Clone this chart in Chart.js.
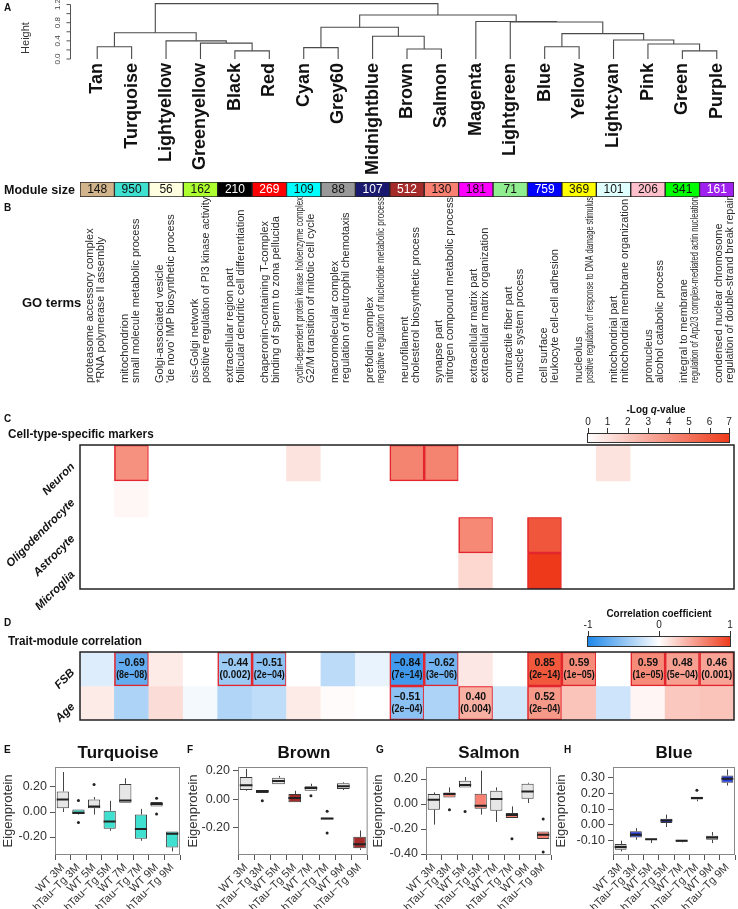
<!DOCTYPE html>
<html>
<head>
<meta charset="utf-8">
<title>Module overview</title>
<script src="https://cdn.jsdelivr.net/npm/chart.js@4.4.1/dist/chart.umd.min.js"></script>
<style>
  body { margin: 0; background: #fff; }
  #fig { position: relative; width: 738px; height: 909px; overflow: hidden; font-family: "Liberation Sans", Arial, sans-serif; color: #111; }
  #fig canvas { position: absolute; }
  .lbl { position: absolute; white-space: nowrap; line-height: 1; }
  .panel { font-weight: bold; font-size: 10px; }
  .head { font-weight: bold; font-size: 13px; transform-origin: 0 50%; transform: scaleX(.9); }
  .ttl { font-weight: bold; font-size: 17px; transform: translateX(-50%); }
  .cbt { font-weight: bold; font-size: 11px; transform: translateX(-50%) scaleX(.9); }
</style>
</head>
<body>
<div id="fig">
  <canvas id="dendro" width="738" height="180" style="left:0;top:0"></canvas>
  <canvas id="sizes" width="738" height="210" style="left:0;top:180px"></canvas>
  <canvas id="cells" width="738" height="215" style="left:0;top:395px"></canvas>
  <canvas id="traits" width="738" height="128" style="left:0;top:600px"></canvas>
  <canvas id="boxE" width="185" height="169" style="left:0;top:740px"></canvas>
  <canvas id="boxF" width="185" height="169" style="left:185px;top:740px"></canvas>
  <canvas id="boxG" width="185" height="169" style="left:370px;top:740px"></canvas>
  <canvas id="boxH" width="185" height="169" style="left:553px;top:740px"></canvas>

  <div class="lbl panel" style="left:4px;top:3px">A</div>
  <div class="lbl" style="left:4px;top:184px;font-weight:bold;font-size:12.5px">Module size</div>
  <div class="lbl panel" style="left:4px;top:203px">B</div>
  <div class="lbl" style="left:22px;top:296px;font-weight:bold;font-size:13px">GO terms</div>
  <div class="lbl panel" style="left:4px;top:414px">C</div>
  <div class="lbl head" style="left:8px;top:427px">Cell-type-specific markers</div>
  <div class="lbl cbt" style="left:656px;top:404px">-Log <i>q</i>-value</div>
  <div class="lbl panel" style="left:4px;top:618px">D</div>
  <div class="lbl head" style="left:8px;top:634px">Trait-module correlation</div>
  <div class="lbl cbt" style="left:659px;top:608px">Correlation coefficient</div>
  <div class="lbl panel" style="left:4px;top:745px">E</div>
  <div class="lbl panel" style="left:187px;top:745px">F</div>
  <div class="lbl panel" style="left:376px;top:745px">G</div>
  <div class="lbl panel" style="left:564px;top:745px">H</div>
  <div class="lbl ttl" style="left:118px;top:744px">Turquoise</div>
  <div class="lbl ttl" style="left:304px;top:744px">Brown</div>
  <div class="lbl ttl" style="left:489px;top:744px">Salmon</div>
  <div class="lbl ttl" style="left:674px;top:744px">Blue</div>
</div>
<script>
const FONT = '"Liberation Sans", Arial, sans-serif';
Chart.defaults.font.family = FONT;

// ---- modules (dendrogram leaf order) ----
const modules = ['Tan', 'Turquoise', 'Lightyellow', 'Greenyellow', 'Black', 'Red', 'Cyan', 'Grey60', 'Midnightblue', 'Brown', 'Salmon', 'Magenta', 'Lightgreen', 'Blue', 'Yellow', 'Lightcyan', 'Pink', 'Green', 'Purple'];
const moduleColors = ['#d2b48c', '#40e0d0', '#ffffe0', '#adff2f', '#000000', '#ff0000', '#00ffff', '#999999', '#191970', '#a52a2a', '#fa8072', '#ff00ff', '#90ee90', '#0000ff', '#ffff00', '#e0ffff', '#ffc0cb', '#00ff00', '#a020f0'];
const moduleSizes = [148, 950, 56, 162, 210, 269, 109, 88, 107, 512, 130, 181, 71, 759, 369, 101, 206, 341, 161];
const whiteText = [4, 5, 8, 9, 13, 18];

// dendrogram merges, R style: negative = leaf, positive = earlier merge
const mergeA = [-5, -18, -10, -7, -1, -14, -17, -4, -3, -16, -9, 6, 5, 4, -13, -12, 14, 13];
const mergeB = [-6, -19, -11, -8, -2, -15, 2, 1, 8, 7, 3, 10, 9, 11, 12, 15, 16, 17];
const mergeHeight = [0.18, 0.18, 0.22, 0.25, 0.27, 0.27, 0.33, 0.35, 0.40, 0.42, 0.50, 0.56, 0.58, 0.70, 0.815, 0.825, 0.97, 1.22];
const heightTicks = [0, 0.2, 0.4, 0.6, 0.8, 1.0, 1.2];
const heightLabels = [0, 0.4, 0.8, 1.2];

// GO terms (cellular component / biological process)
const goCC = ['proteasome accessory complex', 'mitochondrion', 'Golgi-associated vesicle', 'cis-Golgi network', 'extracellular region part', 'chaperonin-containing T-complex', 'cyclin-dependent protein kinase holoenzyme complex', 'macromolecular complex', 'prefoldin complex', 'neurofilament', 'synapse part', 'extracellular matrix part', 'contractile fiber part', 'cell surface', 'nucleolus', 'mitochondrial part', 'pronucleus', 'integral to membrane', 'condensed nuclear chromosome'];
const goBP = ['*RNA polymerase II assembly', 'small molecule metabolic process', "'de novo' IMP biosynthetic process", 'positive regulation of PI3 kinase activity', 'follicular dendritic cell differentiation', 'binding of sperm to zona pellucida', 'G2/M transition of mitotic cell cycle', 'regulation of neutrophil chemotaxis', 'negative regulation of nucleotide metabolic process', 'cholesterol biosynthetic process', 'nitrogen compound metabolic process', 'extracellular matrix organization', 'muscle system process', 'leukocyte cell-cell adhesion', 'positive regulation of response to DNA damage stimulus', 'mitochondrial membrane organization', 'alcohol catabolic process', 'regulation of Arp2/3 complex-mediated actin nucleation', 'regulation of double-strand break repair'];

// ---- C: cell-type markers, -log q ----
const cellTypes = ['Neuron', 'Oligodendrocyte', 'Astrocyte', 'Microglia'];
const neuronLogQ    = [0, 3.9, 0, 0, 0, 0, 1.0, 0, 0, 4.4, 4.4, 0, 0, 0, 0, 1.0, 0, 0, 0];
const oligoLogQ     = [0, 0.3, 0, 0, 0, 0, 0, 0, 0, 0, 0, 0, 0, 0, 0, 0, 0, 0, 0];
const astrocyteLogQ = [0, 0, 0, 0, 0, 0, 0, 0, 0, 0, 0, 4.2, 0, 6.0, 0, 0, 0, 0, 0];
const microgliaLogQ = [0, 0, 0, 0, 0, 0, 0, 0, 0, 0, 0, 1.4, 0, 7.0, 0, 0, 0, 0, 0];
const neuronSig = [1, 9, 10], oligoSig = [], astrocyteSig = [11, 13], microgliaSig = [13];
const logQTicks = [0, 1, 2, 3, 4, 5, 6, 7];

// ---- D: trait-module correlation ----
const traits = ['FSB', 'Age'];
const fsbCor = [-0.15, -0.69, 0.1, 0, -0.44, -0.51, 0, -0.3, -0.1, -0.84, -0.62, 0.12, 0, 0.85, 0.59, 0, 0.59, 0.48, 0.46];
const ageCor = [0.1, -0.36, 0.18, -0.05, -0.35, -0.28, 0.1, 0.02, 0, -0.51, -0.36, 0.40, -0.2, 0.52, 0.3, -0.22, 0.05, 0.28, 0.3];
const fsbP = [null, '8e\u221208', null, null, '0.002', '2e\u221204', null, null, null, '7e\u221214', '3e\u221206', null, null, '2e\u221214', '1e\u221205', null, '1e\u221205', '5e\u221204', '0.001'];
const ageP = [null, null, null, null, null, null, null, null, null, '2e\u221204', null, '0.004', null, '2e\u221204', null, null, null, null, null];
const corTicks = [-1, 0, 1];

// ---- E-H: eigenprotein boxplots ----
const groups = ['WT 3M', 'hTau\u2212Tg 3M', 'WT 5M', 'hTau\u2212Tg 5M', 'WT 7M', 'hTau\u2212Tg 7M', 'WT 9M', 'hTau\u2212Tg 9M'];
const turqMin = [0.00, -0.02, -0.02, -0.15, 0.075, -0.23, 0.045, -0.315];
const turqQ1  = [0.03, -0.015, 0.03, -0.133, 0.075, -0.213, 0.045, -0.283];
const turqMed = [0.10, -0.005, 0.045, -0.075, 0.093, -0.136, 0.065, -0.173];
const turqQ3  = [0.165, 0.02, 0.10, 0.01, 0.225, -0.02, 0.08, -0.155];
const turqMax = [0.32, 0.02, 0.12, 0.09, 0.27, 0.025, 0.08, -0.155];
const turqOut = [[], [0.093, -0.083], [0.22], [], [], [], [0.11, -0.015], []];

const brownMin = [0.06, 0.044, 0.107, -0.02, 0.06, -0.142, 0.065, -0.358];
const brownQ1  = [0.065, 0.044, 0.107, -0.02, 0.06, -0.142, 0.072, -0.346];
const brownMed = [0.10, 0.056, 0.13, 0.01, 0.08, -0.135, 0.093, -0.318];
const brownQ3  = [0.158, 0.065, 0.153, 0.037, 0.093, -0.13, 0.114, -0.265];
const brownMax = [0.215, 0.065, 0.165, 0.06, 0.11, -0.13, 0.12, -0.22];
const brownOut = [[], [-0.01], [], [], [0.025], [-0.084, -0.237], [], []];

const salmonMin = [-0.165, 0.053, 0.133, -0.085, -0.144, -0.112, 0.008, -0.28];
const salmonQ1  = [-0.045, 0.053, 0.133, -0.037, -0.053, -0.112, 0.043, -0.28];
const salmonMed = [0.035, 0.08, 0.152, -0.013, 0.04, -0.088, 0.10, -0.245];
const salmonQ3  = [0.08, 0.093, 0.187, 0.083, 0.107, -0.072, 0.163, -0.219];
const salmonMax = [0.093, 0.133, 0.216, 0.267, 0.133, -0.019, 0.17, -0.219];
const salmonOut = [[], [-0.045], [-0.06], [], [], [-0.277], [], [-0.12, -0.384]];

const blueMin = [-0.168, -0.094, -0.115, -0.013, -0.11, 0.151, -0.115, 0.251];
const blueQ1  = [-0.157, -0.079, -0.094, 0.013, -0.106, 0.162, -0.094, 0.268];
const blueMed = [-0.14, -0.062, -0.09, 0.028, -0.10, 0.172, -0.079, 0.294];
const blueQ3  = [-0.121, -0.04, -0.087, 0.04, -0.094, 0.179, -0.068, 0.315];
const blueMax = [-0.10, -0.02, -0.087, 0.066, -0.094, 0.179, -0.045, 0.353];
const blueOut = [[], [], [], [], [], [0.221], [], []];

// ---------------------------------------------------------------
function mix(c1, c2, t) {
  t = Math.max(0, Math.min(1, t));
  return 'rgb(' + c1.map((v, k) => Math.round(v + (c2[k] - v) * t)).join(',') + ')';
}
const WHITE = [255, 255, 255], RED = [238, 58, 26], BLUE = [28, 134, 232];
const qColor = v => mix(WHITE, RED, v / 7);
const corColor = v => v < 0 ? mix(WHITE, BLUE, -v) : mix(WHITE, RED, v);

// ---- A: dendrogram ----
const nodeX = [], nodeH = [];
const childOf = c => c < 0 ? { x: -c - 1, h: 0 } : { x: nodeX[c - 1], h: nodeH[c - 1] };
const dendroSets = mergeHeight.map((h, k) => {
  const a = childOf(mergeA[k]), b = childOf(mergeB[k]);
  nodeX.push((a.x + b.x) / 2); nodeH.push(h);
  return {
    data: [{ x: a.x, y: a.h }, { x: a.x, y: h }, { x: b.x, y: h }, { x: b.x, y: b.h }],
    showLine: true, borderColor: '#4a4a4a', borderWidth: 1.1, pointRadius: 0, fill: false
  };
});

const dendroDeco = {
  id: 'dendroDeco',
  afterDraw(chart) {
    const { ctx, scales: { x, y } } = chart;
    ctx.save();
    const ax = 70.5;
    ctx.strokeStyle = '#555'; ctx.lineWidth = 1;
    ctx.beginPath();
    ctx.moveTo(ax, y.getPixelForValue(0)); ctx.lineTo(ax, y.getPixelForValue(1.2));
    heightTicks.forEach(v => { const p = y.getPixelForValue(v); ctx.moveTo(ax, p); ctx.lineTo(ax - 4, p); });
    ctx.stroke();
    ctx.fillStyle = '#444'; ctx.font = '8px ' + FONT;
    ctx.textAlign = 'center'; ctx.textBaseline = 'middle';
    heightLabels.forEach(v => {
      ctx.save(); ctx.translate(ax - 13, y.getPixelForValue(v)); ctx.rotate(-Math.PI / 2);
      ctx.fillText(v.toFixed(1), 0, 0); ctx.restore();
    });
    ctx.font = '11px ' + FONT; ctx.fillStyle = '#333';
    ctx.save(); ctx.translate(26, 38); ctx.rotate(-Math.PI / 2); ctx.fillText('Height', 0, 0); ctx.restore();
    ctx.font = 'bold 18px ' + FONT; ctx.fillStyle = '#111'; ctx.textAlign = 'right';
    modules.forEach((m, i) => {
      ctx.save(); ctx.translate(x.getPixelForValue(i), 63); ctx.rotate(-Math.PI / 2);
      ctx.fillText(m, 0, 0); ctx.restore();
    });
    ctx.restore();
  }
};

new Chart(document.getElementById('dendro'), {
  type: 'scatter',
  data: { datasets: dendroSets },
  options: {
    responsive: false, animation: false,
    layout: { padding: { left: 80, right: 4, top: 0, bottom: 121 } },
    plugins: { legend: { display: false }, tooltip: { enabled: false } },
    scales: {
      x: { type: 'linear', min: -0.5, max: 18.5, display: false },
      y: { min: 0, max: 1.3, display: false }
    }
  },
  plugins: [dendroDeco]
});

// ---- module size strip + GO terms ----
const sizeDeco = {
  id: 'sizeDeco',
  afterDatasetsDraw(chart) {
    const { ctx, scales: { x, y } } = chart;
    ctx.save();
    ctx.textAlign = 'center'; ctx.textBaseline = 'middle';
    ctx.font = '12px ' + FONT;
    moduleSizes.forEach((n, i) => {
      ctx.fillStyle = whiteText.includes(i) ? '#fff' : '#111';
      ctx.fillText(String(n), x.getPixelForValue(i), y.getPixelForValue(0.5) + 0.5, 24);
    });
    ctx.fillStyle = '#2b2b2b'; ctx.textAlign = 'left';
    ctx.font = '11px ' + FONT;
    const base = 203;
    modules.forEach((m, i) => {
      const x1 = x.getPixelForValue(i) - 7 + 0.5 * i;
      [[goCC[i], x1], [goBP[i], x1 + 11]].forEach(([s, px]) => {
        ctx.save(); ctx.translate(px, base); ctx.rotate(-Math.PI / 2);
        ctx.fillText(s, 0, 0, 186); ctx.restore();
      });
    });
    ctx.restore();
  }
};

new Chart(document.getElementById('sizes'), {
  type: 'bar',
  data: {
    labels: modules,
    datasets: [{
      data: moduleSizes.map(() => [0, 1]),
      backgroundColor: moduleColors, borderColor: '#222', borderWidth: 1, borderSkipped: false,
      barPercentage: 1, categoryPercentage: 1
    }]
  },
  options: {
    responsive: false, animation: false,
    layout: { padding: { left: 80, right: 4, top: 2, bottom: 193 } },
    plugins: { legend: { display: false }, tooltip: { enabled: false } },
    scales: { x: { display: false }, y: { min: 0, max: 1, display: false } }
  },
  plugins: [sizeDeco]
});

// ---- heatmap helpers ----
function heatDeco(cfg) {
  return {
    id: 'heatDeco',
    afterDatasetsDraw(chart) {
      const { ctx, chartArea: a, scales: { x, y } } = chart;
      ctx.save();
      ctx.strokeStyle = '#222'; ctx.lineWidth = 1.5;
      ctx.strokeRect(a.left, a.top, a.right - a.left, a.bottom - a.top);
      if (cfg.cellText) {
        ctx.fillStyle = '#111'; ctx.textAlign = 'center'; ctx.textBaseline = 'middle';
        ctx.font = 'bold 10.5px ' + FONT;
        cfg.cellText.forEach((row, r) => row.forEach((t, i) => {
          if (!t) return;
          const cx = x.getPixelForValue(i), cy = y.getPixelForValue(r + 0.5);
          ctx.fillText(t[0], cx, cy - 6, 30);
          ctx.fillText('(' + t[1] + ')', cx, cy + 6, 31);
        }));
      }
      ctx.fillStyle = '#111'; ctx.font = 'italic bold 11.5px ' + FONT;
      ctx.textAlign = 'right'; ctx.textBaseline = 'bottom';
      cfg.rows.forEach((name, r) => {
        ctx.save(); ctx.translate(a.left - 3, y.getPixelForValue(r + 0.5) + 6); ctx.rotate(-Math.PI / 4);
        ctx.fillText(name, 0, 0); ctx.restore();
      });
      const b = cfg.bar;
      const g = ctx.createLinearGradient(b.x0, 0, b.x1, 0);
      b.stops.forEach(([p, c]) => g.addColorStop(p, c));
      ctx.fillStyle = g; ctx.fillRect(b.x0, b.y0, b.x1 - b.x0, b.y1 - b.y0);
      ctx.strokeStyle = '#333'; ctx.lineWidth = 1;
      ctx.strokeRect(b.x0 + 0.5, b.y0 + 0.5, b.x1 - b.x0 - 1, b.y1 - b.y0 - 1);
      ctx.fillStyle = '#222'; ctx.font = '10px ' + FONT; ctx.textAlign = 'center'; ctx.textBaseline = 'middle';
      ctx.beginPath();
      b.ticks.forEach(v => {
        const px = b.x0 + (v - b.min) / (b.max - b.min) * (b.x1 - b.x0);
        const tx = Math.min(Math.max(px, b.x0 + 1), b.x1 - 1);
        ctx.fillText(String(v), tx, b.y0 - 11);
        ctx.moveTo(Math.round(tx) + 0.5, b.y0 - 5); ctx.lineTo(Math.round(tx) + 0.5, b.y0);
      });
      ctx.stroke();
      ctx.restore();
    }
  };
}

function heatSets(rows, sig, color) {
  return rows.map((vals, r) => ({
    data: vals.map(() => [r, r + 1]),
    backgroundColor: vals.map(color),
    borderColor: '#e3262e',
    borderWidth: vals.map((v, i) => sig[r].includes(i) ? 1.6 : 0),
    borderSkipped: false, grouped: false,
    barPercentage: 1, categoryPercentage: 1
  }));
}

// ---- C ----
new Chart(document.getElementById('cells'), {
  type: 'bar',
  data: {
    labels: modules,
    datasets: heatSets([neuronLogQ, oligoLogQ, astrocyteLogQ, microgliaLogQ],
      [neuronSig, oligoSig, astrocyteSig, microgliaSig], qColor)
  },
  options: {
    responsive: false, animation: false,
    layout: { padding: { left: 80, right: 4, top: 50, bottom: 21 } },
    plugins: { legend: { display: false }, tooltip: { enabled: false } },
    scales: { x: { display: false }, y: { min: 0, max: 4, reverse: true, display: false } }
  },
  plugins: [heatDeco({
    rows: cellTypes,
    bar: { x0: 587, x1: 730, y0: 38, y1: 48, min: 0, max: 7, ticks: logQTicks,
           stops: [[0, '#ffffff'], [1, qColor(7)]] }
  })]
});

// ---- D ----
const sigOf = p => p.map((v, i) => v ? i : -1).filter(i => i >= 0);
new Chart(document.getElementById('traits'), {
  type: 'bar',
  data: {
    labels: modules,
    datasets: heatSets([fsbCor, ageCor], [sigOf(fsbP), sigOf(ageP)], corColor)
  },
  options: {
    responsive: false, animation: false,
    layout: { padding: { left: 80, right: 4, top: 52, bottom: 8 } },
    plugins: { legend: { display: false }, tooltip: { enabled: false } },
    scales: { x: { display: false }, y: { min: 0, max: 2, reverse: true, display: false } }
  },
  plugins: [heatDeco({
    rows: traits,
    cellText: [fsbCor, ageCor].map((c, r) => c.map((v, i) => {
      const p = [fsbP, ageP][r][i];
      return p ? [(v < 0 ? '\u2212' : '') + Math.abs(v).toFixed(2), p] : null;
    })),
    bar: { x0: 587, x1: 731, y0: 36, y1: 47, min: -1, max: 1, ticks: corTicks,
           stops: [[0, corColor(-1)], [0.5, '#ffffff'], [1, corColor(1)]] }
  })]
});

// ---- E-H boxplots ----
function boxPlot(id, s) {
  const extras = {
    id: 'boxExtras',
    beforeDatasetsDraw(chart) {
      const { ctx, scales: { x, y } } = chart;
      ctx.save(); ctx.strokeStyle = '#444'; ctx.lineWidth = 1;
      ctx.beginPath();
      s.min.forEach((v, i) => {
        const px = Math.round(x.getPixelForValue(i)) + 0.5;
        ctx.moveTo(px, y.getPixelForValue(s.max[i])); ctx.lineTo(px, y.getPixelForValue(s.q3[i]));
        ctx.moveTo(px, y.getPixelForValue(s.q1[i])); ctx.lineTo(px, y.getPixelForValue(v));
      });
      ctx.stroke(); ctx.restore();
    },
    afterDatasetsDraw(chart) {
      const { ctx, chartArea: a, scales: { x, y } } = chart;
      const meta = chart.getDatasetMeta(0);
      ctx.save();
      ctx.strokeStyle = '#222'; ctx.lineWidth = 2;
      ctx.beginPath();
      s.med.forEach((v, i) => {
        const w = meta.data[i].width / 2, px = x.getPixelForValue(i), py = y.getPixelForValue(v);
        ctx.moveTo(px - w, py); ctx.lineTo(px + w, py);
      });
      ctx.stroke();
      ctx.fillStyle = '#222';
      s.out.forEach((pts, i) => pts.forEach(v => {
        ctx.beginPath(); ctx.arc(x.getPixelForValue(i), y.getPixelForValue(v), 1.5, 0, 2 * Math.PI); ctx.fill();
      }));
      ctx.strokeStyle = '#888'; ctx.lineWidth = 1;
      ctx.strokeRect(a.left + 0.5, a.top + 0.5, a.right - a.left - 1, a.bottom - a.top - 1);
      ctx.restore();
    }
  };
  new Chart(document.getElementById(id), {
    type: 'bar',
    data: {
      labels: groups,
      datasets: [{
        data: s.q1.map((v, i) => [v, s.q3[i]]),
        backgroundColor: groups.map((g, i) => i % 2 ? s.color : s.wt),
        borderColor: '#3a3a3a', borderWidth: 1, borderSkipped: false,
        barPercentage: 0.78, categoryPercentage: 1
      }]
    },
    options: {
      responsive: false, animation: false,
      layout: { padding: { top: 27, right: s.right, left: 0, bottom: 0 } },
      plugins: { legend: { display: false }, tooltip: { enabled: false } },
      scales: {
        x: {
          grid: { drawOnChartArea: false, tickLength: 5, color: '#555' }, border: { display: false },
          ticks: { autoSkip: false, minRotation: 45, maxRotation: 45, font: { size: 11 }, color: '#333', padding: 1 },
          afterFit(sc) { sc.height = 54; }
        },
        y: {
          min: s.lo, max: s.hi,
          afterBuildTicks(sc) { sc.ticks = s.ticks.map(v => ({ value: v })); },
          ticks: { callback: v => v.toFixed(2), font: { size: 12.5 }, color: '#333', padding: 3 },
          grid: { drawOnChartArea: false, tickLength: 5, color: '#555' }, border: { display: false },
          title: { display: true, text: 'Eigenprotein', font: { size: 13 }, color: '#333', padding: { top: 1, bottom: 0 } },
          afterFit(sc) { sc.width = s.yw; }
        }
      }
    },
    plugins: [extras]
  });
}

boxPlot('boxE', { min: turqMin, q1: turqQ1, med: turqMed, q3: turqQ3, max: turqMax, out: turqOut,
  color: '#40e0d0', wt: '#e6e6e6', lo: -0.344, hi: 0.36, ticks: [-0.2, 0, 0.2], yw: 55, right: 5 });
boxPlot('boxF', { min: brownMin, q1: brownQ1, med: brownMed, q3: brownQ3, max: brownMax, out: brownOut,
  color: '#a52a2a', wt: '#e6e6e6', lo: -0.393, hi: 0.228, ticks: [-0.2, 0, 0.2], yw: 53, right: 2 });
boxPlot('boxG', { min: salmonMin, q1: salmonQ1, med: salmonMed, q3: salmonQ3, max: salmonMax, out: salmonOut,
  color: '#fa8072', wt: '#e6e6e6', lo: -0.408, hi: 0.296, ticks: [-0.4, -0.2, 0, 0.2], yw: 56, right: 4 });
boxPlot('boxH', { min: blueMin, q1: blueQ1, med: blueMed, q3: blueQ3, max: blueMax, out: blueOut,
  color: '#2438d8', wt: '#c4c4c4', lo: -0.191, hi: 0.369, ticks: [-0.1, 0, 0.1, 0.2, 0.3], yw: 60, right: 3 });
</script>
</body>
</html>
